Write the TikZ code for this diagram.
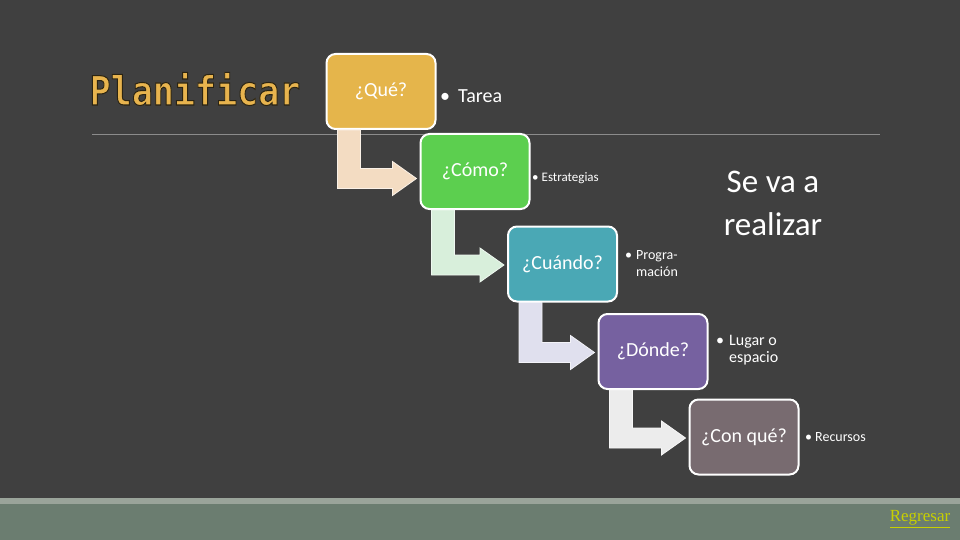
\documentclass[tikz,border=0pt]{standalone}
\usepackage{fontspec}
\setmainfont{Carlito}
\newfontfamily\monob{DejaVu Sans Mono}
\newfontfamily\seriffont{Liberation Serif}
\usetikzlibrary{calc}
\definecolor{bgdark}{HTML}{404040}
\definecolor{bandlight}{HTML}{9AA49A}
\definecolor{bandgreen}{HTML}{6B7D70}
\definecolor{linegray}{HTML}{8C8C8C}
\definecolor{plancol}{HTML}{E8B44E}
\definecolor{qcol}{HTML}{E5B54B}
\definecolor{ccol}{HTML}{5CCF4F}
\definecolor{wcol}{HTML}{4AA8B5}
\definecolor{dcol}{HTML}{7661A0}
\definecolor{cqcol}{HTML}{786B70}
\definecolor{arrA}{HTML}{F3DCC2}
\definecolor{arrB}{HTML}{D8EFDB}
\definecolor{arrC}{HTML}{E0E0EE}
\definecolor{arrD}{HTML}{ECECEC}
\definecolor{regcol}{HTML}{C8D000}
\newcommand\planword{\scalebox{1}[1.15]{\monob\bfseries\fontsize{35}{40}\selectfont
  \special{pdf:literal direct 2 Tr 0.9 w 0.17 0.14 0.07 RG}Planificar\special{pdf:literal direct 0 Tr}}}
\newcommand\bentarrow[4]{%
  \path[fill=#3, draw=white!60!#3, line width=0.8pt] let \p1=(#1.south west), \p2=(#2.west) in
  (\x1+12pt,\y1) -- (\x1+35pt,\y1) -- (\x1+35pt,\y2+10pt-#4) -- (\x2-27pt,\y2+10pt-#4)
  -- (\x2-27pt,\y2+17pt-#4) -- (\x2-3pt,\y2-#4) -- (\x2-27pt,\y2-17pt-#4)
  -- (\x2-27pt,\y2-10pt-#4) -- (\x1+12pt,\y2-10pt-#4) -- cycle;}
\begin{document}
\begin{tikzpicture}[x=1pt,y=-1pt,
  box/.style={draw=white, line width=2pt, rounded corners=9pt, minimum width=109pt,
    minimum height=75pt, text=white, font=\fontsize{20}{24}\selectfont, inner sep=0pt},
  lbl/.style={text=white, anchor=west, inner sep=0pt, align=left}]
\fill[bgdark] (0,0) rectangle (960,540);
\fill[bandlight] (0,498) rectangle (960,504);
\fill[bandgreen] (0,504) rectangle (960,540);
\useasboundingbox (0,0) rectangle (960,540);
\draw[linegray, line width=1pt] (92,135) -- (880,135);
% title
\node[anchor=base, inner sep=0pt, text=plancol] (plan) at (195,105) {\planword};
% boxes
\node[box, fill=qcol] (q) at (381,91.5) {¿Qué?};
\node[box, fill=ccol] (c) at (475,171.5) {¿Cómo?};
\node[box, fill=wcol] (w) at (562.5,264) {¿Cuándo?};
\node[box, fill=dcol] (d) at (653,351.5) {¿Dónde?};
\node[box, fill=cqcol] (cq) at (744,437) {¿Con qué?};
% bent arrows
\bentarrow{q}{c}{arrA}{7pt}
\bentarrow{c}{w}{arrB}{1pt}
\bentarrow{w}{d}{arrC}{1pt}
\bentarrow{d}{cq}{arrD}{1pt}
% labels
\node[lbl, font=\fontsize{20}{24}\selectfont] (t1) at (440,96) {•\hspace{8pt}Tarea};
\node[lbl, font=\fontsize{13}{16}\selectfont] (t2) at (532,178) {•\hspace{3pt}Estrategias};
\node[lbl, font=\fontsize{14}{17}\selectfont] (t3) at (625,264.5)
  {\begin{tabular}{@{}l@{\hspace{4pt}}l@{}}•&Progra-\\&mación\end{tabular}};
\node[lbl, font=\fontsize{16}{17}\selectfont] (t4) at (716,350.5)
  {\begin{tabular}{@{}l@{\hspace{5pt}}l@{}}•&Lugar o\\&espacio\end{tabular}};
\node[lbl, font=\fontsize{14}{17}\selectfont] (t5) at (805,437) {•\hspace{3pt}Recursos};
\node[text=white, inner sep=0pt, align=center, font=\fontsize{33}{43}\selectfont] (sv) at (773,203) {Se va a\\realizar};
\node[text=regcol, inner sep=0pt, font=\seriffont\fontsize{17}{20}\selectfont] (reg) at (920,519) {\underline{Regresar}};
\end{tikzpicture}
\end{document}
